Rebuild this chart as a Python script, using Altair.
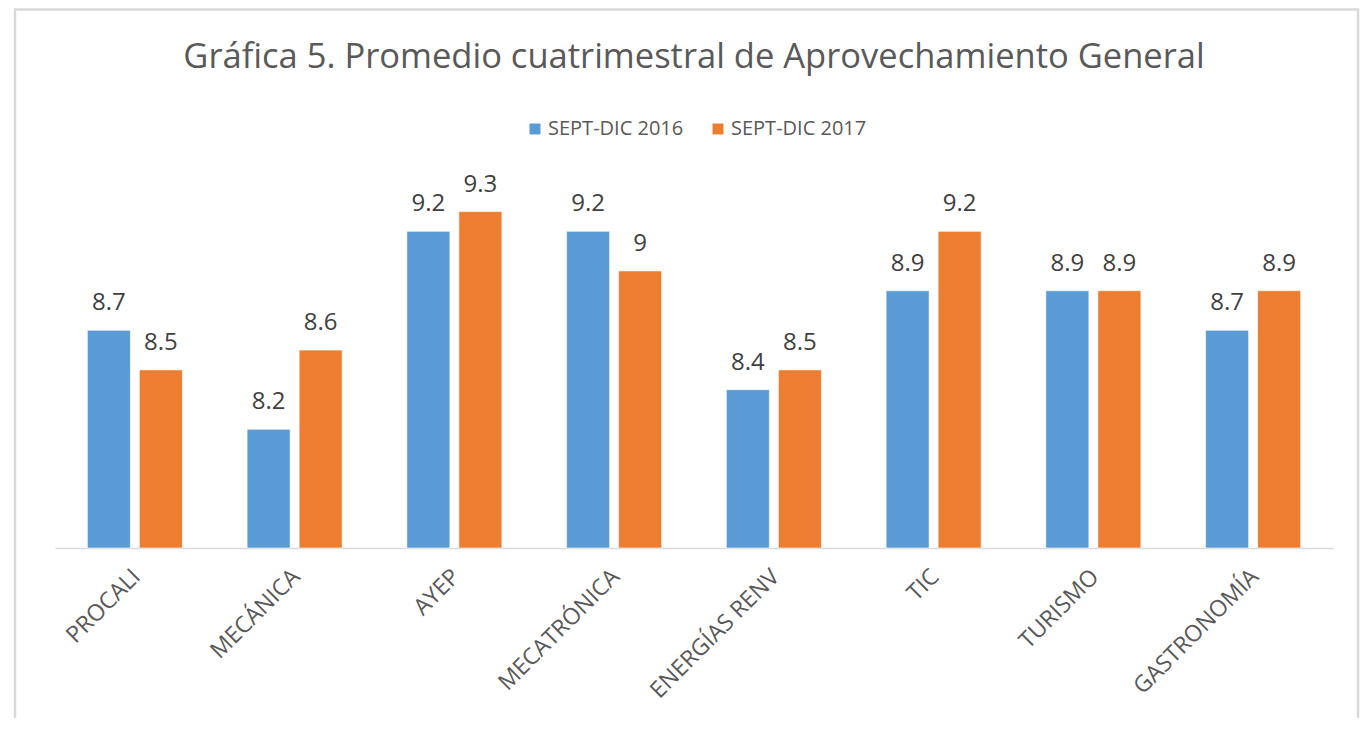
import altair as alt
import pandas as pd

categories = ["PROCALI", "MECÁNICA", "AYEP", "MECATRÓNICA", "ENERGÍAS RENV", "TIC", "TURISMO", "GASTRONOMÍA"]
series_names = ["SEPT-DIC 2016", "SEPT-DIC 2017"]
values_2016 = [8.7, 8.2, 9.2, 9.2, 8.4, 8.9, 8.9, 8.7]
values_2017 = [8.5, 8.6, 9.3, 9.0, 8.5, 9.2, 8.9, 8.9]
colors = ["#5B9BD5", "#ED7D31"]
title_text = "Gráfica 5. Promedio cuatrimestral de Aprovechamiento General"

rows = []
for c, a, b in zip(categories, values_2016, values_2017):
    rows.append({"cat": c, "serie": series_names[0], "val": a})
    rows.append({"cat": c, "serie": series_names[1], "val": b})
df = pd.DataFrame(rows)

FONT = "Open Sans"
W, H = 1278, 376

x_enc = alt.X("cat:N", sort=categories,
              scale=alt.Scale(paddingInner=0.405, paddingOuter=0.2025),
              axis=alt.Axis(title=None, labelAngle=-45, labelFontSize=23, labelColor="#595959",
                            labelFont=FONT, ticks=False, domainColor="#d9d9d9", domainWidth=1.5,
                            labelPadding=17, labelOffset=-6, labelLimit=300))
xoff = alt.XOffset("serie:N", sort=series_names, scale=alt.Scale(paddingInner=0.173))
y_enc = alt.Y("val:Q", scale=alt.Scale(domain=[7.6, 9.5], zero=False, nice=False, clamp=True), axis=None)

bars = alt.Chart(df).mark_bar(stroke="white", strokeWidth=0.6).encode(
    x=x_enc, xOffset=xoff, y=y_enc,
    color=alt.Color("serie:N", sort=series_names,
                    scale=alt.Scale(domain=series_names, range=colors),
                    legend=alt.Legend(title=None, orient="none", direction="horizontal",
                                      legendX=470, legendY=-53, symbolType="square",
                                      symbolSize=120, symbolStrokeWidth=0, labelFontSize=20,
                                      labelFont=FONT, labelColor="#595959", columnPadding=24,
                                      padding=0, labelOffset=3)),
)

labels = alt.Chart(df).mark_text(baseline="bottom", dy=-15, fontSize=24, font=FONT, color="#404040").encode(
    x=alt.X("cat:N", sort=categories), xOffset=xoff, y=y_enc, text=alt.Text("val:Q")
)

title = alt.Chart(pd.DataFrame({"t": [title_text]})).mark_text(
    fontSize=34.5, font=FONT, color="#595959", baseline="middle", align="center"
).encode(text="t:N", x=alt.value(W / 2), y=alt.value(-114))

frame = alt.Chart(pd.DataFrame({"a": [0]})).mark_rect(fill=None, stroke="#d9d9d9", strokeWidth=2.5).encode(
    x=alt.value(-40), x2=alt.value(1303), y=alt.value(-162.5), y2=alt.value(700)
)

chart = alt.layer(frame, bars, labels, title).properties(
    width=W, height=H,
    autosize=alt.AutoSizeParams(type="none"),
    padding={"left": 47, "top": 164, "right": 30, "bottom": 170},
    background="white",
).configure_view(stroke=None)

chart.save("out.html", embed_options={"renderer": "svg", "actions": False})
